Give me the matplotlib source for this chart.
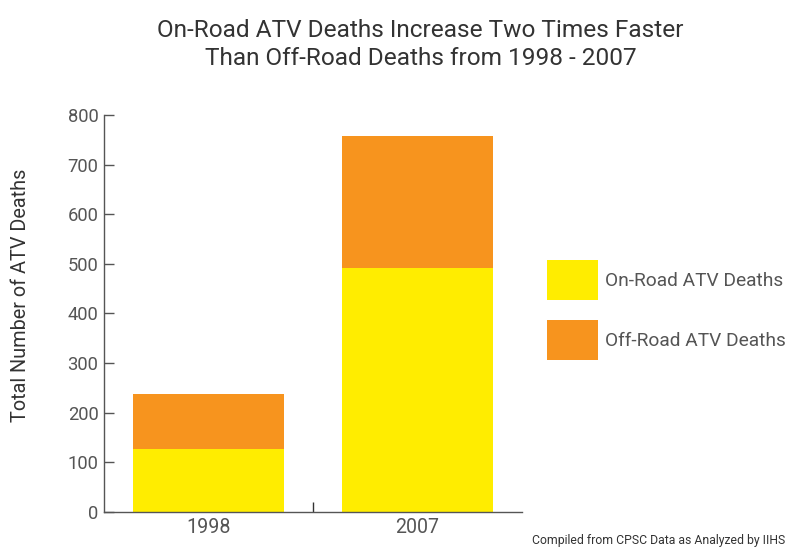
import matplotlib
matplotlib.use("Agg")
import matplotlib.pyplot as plt
from matplotlib.patches import Patch

years = ["1998", "2007"]
on_road = [127, 492]
off_road = [110, 265]
series_labels = ["On-Road ATV Deaths", "Off-Road ATV Deaths"]
yticks = [0, 100, 200, 300, 400, 500, 600, 700, 800]
title1 = "On-Road ATV Deaths Increase Two Times Faster"
title2 = "Than Off-Road Deaths from 1998 - 2007"
ylabel = "Total Number of ATV Deaths"
source = "Compiled from CPSC Data as Analyzed by IIHS"

YELLOW = "#FFED00"
ORANGE = "#F7941E"
GREY = "#555555"
DARK = "#333333"

plt.rcParams['font.family'] = ['Roboto', 'DejaVu Sans']

fig = plt.figure(figsize=(7.89, 5.49), dpi=100)
renderer = fig.canvas.get_renderer()


def fit(t, target, axis='w'):
    bb = t.get_window_extent(renderer)
    cur = bb.width if axis == 'w' else bb.height
    t.set_fontsize(t.get_fontsize() * target / cur)
    return t.get_fontsize()


ax = fig.add_axes([0.1318, 0.0679, 0.5298, 0.7226])

x = list(range(len(years)))
ax.bar(x, on_road, width=0.72, color=YELLOW, label=series_labels[0])
ax.bar(x, off_road, width=0.72, bottom=on_road, color=ORANGE, label=series_labels[1])

ax.set_xlim(-0.5, 1.5)
ax.set_ylim(0, 800)

probe = fig.text(0, 0, "800", fontsize=13)
tick_fs = fit(probe, 31)
probe.remove()

ax.set_yticks(yticks)
ax.set_yticklabels([str(v) for v in yticks], fontsize=tick_fs, color=GREY)
ax.tick_params(axis='y', direction='in', length=7, width=1, color=GREY, pad=4)

ax.set_xticks([0.5])
ax.set_xticklabels([""])
ax.tick_params(axis='x', direction='in', length=7, width=1, color=DARK)
for xi, lab in zip(x, years):
    t = ax.text(xi, -0.015, lab, transform=ax.get_xaxis_transform(), ha='center', va='top',
                fontsize=13, color=GREY)
    fit(t, 44)

for s in ['top', 'right']:
    ax.spines[s].set_visible(False)
for s in ['left', 'bottom']:
    ax.spines[s].set_color(GREY)
    ax.spines[s].set_linewidth(1)

yl = fig.text(0.026, 1 - 295 / 549, ylabel, rotation=90, ha='center', va='center',
              fontsize=14, color=DARK)
fit(yl, 254, axis='h')

t1 = fig.text(420 / 789, 1 - 36.7 / 549, title1, ha='center', va='baseline',
              fontsize=16, color=DARK)
fit(t1, 527)
t2 = fig.text(421 / 789, 1 - 65 / 549, title2, ha='center', va='baseline',
              fontsize=t1.get_fontsize(), color=DARK)

probe = fig.text(0, 0, series_labels[0], fontsize=13)
leg_fs = fit(probe, 178)
probe.remove()
px = leg_fs * 100 / 72.0
box_h, box_w, gap = 40, 51, 20
hh = (box_h / px - 0.245) / 0.65
handles = [Patch(facecolor=YELLOW, label=series_labels[0]),
           Patch(facecolor=ORANGE, label=series_labels[1])]
leg = fig.legend(handles=handles, loc='upper left', bbox_to_anchor=(547 / 789, 1 - 260 / 549),
                 frameon=False, fontsize=leg_fs, handlelength=box_w / px, handleheight=hh,
                 labelspacing=gap / px, handletextpad=7 / px, borderpad=0, borderaxespad=0)
for t in leg.get_texts():
    t.set_color(GREY)

src = fig.text(785 / 789, 1 - 547 / 549, source, ha='right', va='bottom',
               fontsize=9, color=DARK)
fit(src, 253)

fig.savefig("out.png", dpi=100)
